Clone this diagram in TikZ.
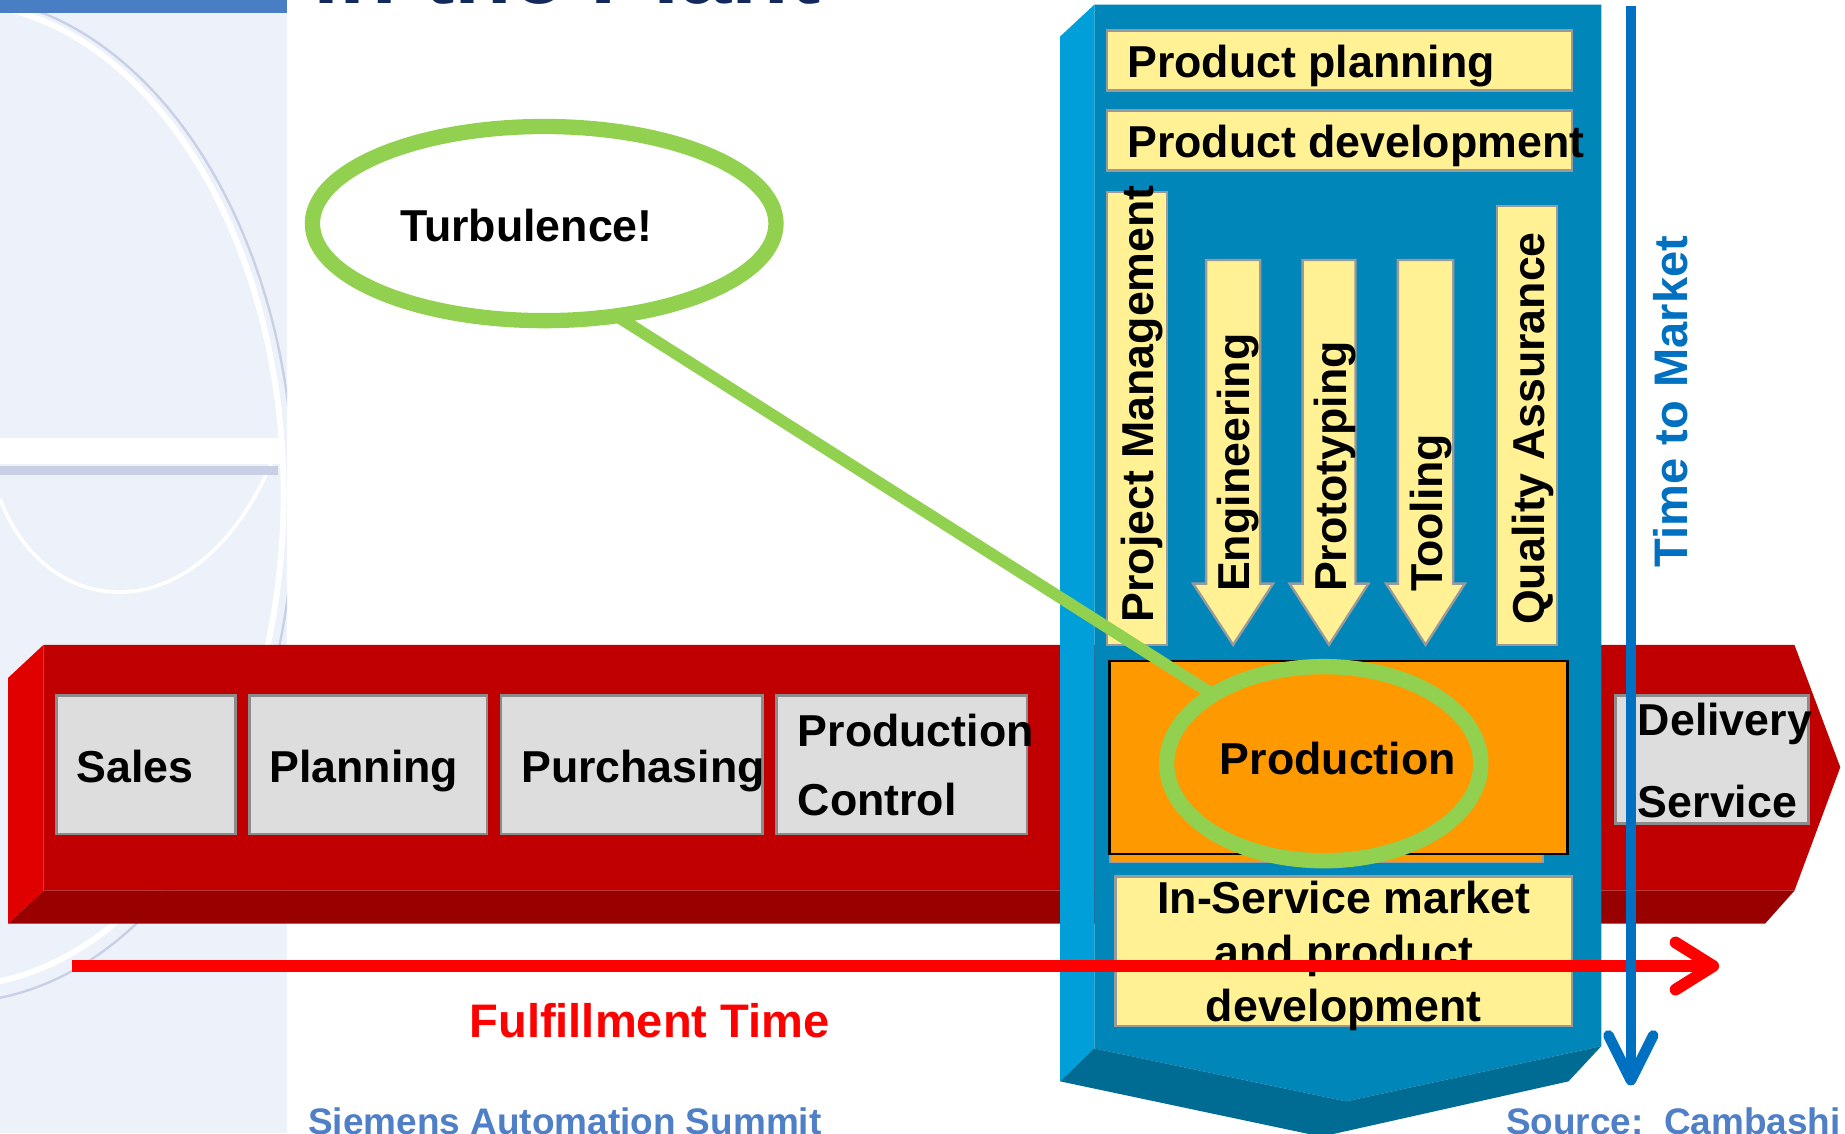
\documentclass[tikz,border=0pt]{standalone}
\usepackage{fontspec}
\setmainfont{Liberation Sans}
\usetikzlibrary{shapes.geometric,fit}
\definecolor{panelbg}{HTML}{EDF1F9}
\definecolor{panelline}{HTML}{C9D0E6}
\definecolor{topbar}{HTML}{4A7EC4}
\definecolor{navy}{HTML}{13295B}
\definecolor{redfront}{HTML}{C00000}
\definecolor{redleft}{HTML}{E00000}
\definecolor{reddark}{HTML}{990000}
\definecolor{grayfill}{HTML}{DDDDDD}
\definecolor{grayline}{HTML}{8C8C8C}
\definecolor{bluefront}{HTML}{0086B8}
\definecolor{blueleft}{HTML}{009FD9}
\definecolor{bluedark}{HTML}{006C94}
\definecolor{yellowfill}{HTML}{FFF194}
\definecolor{yline}{HTML}{9A9A9A}
\definecolor{prodorange}{HTML}{FF9900}
\definecolor{lgreen}{HTML}{92D050}
\definecolor{tmblue}{HTML}{0070C0}
\definecolor{footblue}{HTML}{4F7FC6}
\definecolor{purered}{HTML}{FF0000}
\newcommand\lblfont{\fontsize{19}{23}\selectfont\bfseries}
\newcommand\bigfont{\fontsize{20}{24}\selectfont\bfseries}
\newcommand\footfont{\fontsize{15.7}{19}\selectfont\bfseries}
\newcommand\titlefont{\fontsize{40}{48}\selectfont\bfseries}
\tikzset{
  lbl/.style={font=\lblfont, inner sep=0pt, outer sep=0pt, anchor=base west},
  clbl/.style={lbl, anchor=base},
  vlbl/.style={lbl, rotate=90},
  gbox/.style={draw=grayline, fill=grayfill, line width=1pt, inner sep=0pt, outer sep=0pt},
  ybox/.style={draw=yline, fill=yellowfill, line width=1pt, inner sep=0pt, outer sep=0pt},
  yarrow/.style={draw=yline, fill=yellowfill, line width=1pt},
  obox/.style={draw=black, fill=prodorange, line width=1pt, inner sep=0pt, outer sep=0pt},
  greenring/.style={ellipse, draw=lgreen, line width=6.5pt, inner sep=0pt, outer sep=0pt},
  greenline/.style={draw=lgreen, line width=5pt},
  redline/.style={draw=purered, line width=5pt},
  blueline/.style={draw=tmblue, line width=4.5pt},
}
\begin{document}
\begin{tikzpicture}[x=0.5pt,y=-0.5pt]
\useasboundingbox (0,0) rectangle (1568,963);
\clip (0,0) rectangle (1568,963);
\fill[white] (0,0) rectangle (1568,963);
% left decorative panel
\begin{scope}
  \clip (0,0) rectangle (244,963);
  \fill[panelbg] (0,0) rectangle (244,963);
  \draw[panelline, line width=1pt] (-40,424) ellipse [x radius=290, y radius=428];
  \draw[white, line width=2.5pt] (-40,420) ellipse [x radius=281, y radius=418];
  \draw[white, line width=1.5pt] (0,424) .. controls (40,530) and (170,540) .. (232,390);
  \fill[white] (0,372) rectangle (240,394);
  \fill[panelline] (0,396) rectangle (236,404);
\end{scope}
\fill[topbar] (0,0) rectangle (244,11);
\node[anchor=base west, inner sep=0pt, font=\titlefont, text=navy] (title) at (266,3) {in the Plant};
% red fulfillment bar
\fill[redfront] (37,548) -- (1525,548) -- (1564,652) -- (1525,757) -- (37,757) -- cycle;
\fill[redleft] (7,576) -- (37,548) -- (37,757) -- (7,785) -- cycle;
\fill[reddark] (7,785) -- (37,757) -- (1525,757) -- (1500,785) -- cycle;
% gray boxes
\node[gbox, fit={(48,591) (200,709)}] (sales) {};
\node[gbox, fit={(212,591) (414,709)}] (planning) {};
\node[gbox, fit={(426,591) (648,709)}] (purchasing) {};
\node[gbox, fit={(660,591) (873,709)}] (prodctl) {};
\node[gbox, fit={(1373,591) (1537,700)}] (delivery) {};
\node[lbl] (salestxt) at (65,665) {Sales};
\node[lbl] (plantxt) at (229,665) {Planning};
\node[lbl] (purchtxt) at (443,665) {Purchasing};
\node[lbl] (pctxt1) at (678,634) {Production};
\node[lbl] (pctxt2) at (678,693) {Control};
\node[lbl] (deltxt1) at (1392,625) {Delivery};
\node[lbl] (deltxt2) at (1392,695) {Service};
% turbulence bubble
\node[greenring, fill=white, minimum width=197pt, minimum height=82.5pt] (turb) at (462.5,190) {};
\node[lbl] (turbtxt) at (340,205) {Turbulence!};
% blue time-to-market block
\fill[bluefront] (930,4) -- (1361,4) -- (1361,889) -- (1144,936) -- (930,891) -- cycle;
\fill[blueleft] (901,31) -- (930,4) -- (930,891) -- (901,919) -- cycle;
\fill[bluedark] (901,919) -- (930,891) -- (1144,936) -- (1361,889) -- (1333,919) -- (1123,966) -- cycle;
% yellow boxes
\node[ybox, fit={(941,26) (1336,77)}] (pplan) {};
\node[ybox, fit={(941,94) (1336,145)}] (pdev) {};
\node[ybox, fit={(941,163) (992,548)}] (projm) {};
\node[ybox, fit={(1272,175) (1323,548)}] (qa) {};
\path[yarrow] (1025,221) -- (1071,221) -- (1071,496) -- (1082,496) -- (1048,548) -- (1014,496) -- (1025,496) -- cycle;
\path[yarrow] (1107,221) -- (1152,221) -- (1152,496) -- (1163,496) -- (1129.5,548) -- (1096,496) -- (1107,496) -- cycle;
\path[yarrow] (1188,221) -- (1235,221) -- (1235,496) -- (1245,496) -- (1211.5,548) -- (1178,496) -- (1188,496) -- cycle;
\node[lbl] (pplantxt) at (958,66) {Product planning};
\node[lbl] (pdevtxt) at (958,134) {Product development};
\node[vlbl] (projtxt) at (980,529) {Project Management};
\node[vlbl] (engtxt) at (1062,503) {Engineering};
\node[vlbl] (prototxt) at (1144,503) {Prototyping};
\node[vlbl] (tooltxt) at (1226,503) {Tooling};
\node[vlbl] (qatxt) at (1313,531) {Quality Assurance};
% production
\filldraw[fill=prodorange, draw=yline, line width=0.8pt] (943,726) rectangle (1311,733);
\node[obox, fit={(943,562) (1332,726)}] (prod) {};
\node[clbl] (prodtxt) at (1137,658) {Production};
% in-service box
\node[ybox, fit={(948,745) (1336,872)}] (inserv) {};
\node[clbl] (inserv1) at (1142,776) {In-Service market};
\node[clbl] (inserv2) at (1142,822) {and product};
\node[clbl] (inserv3) at (1142,868) {development};
% green ring and connector
\node[greenring, minimum width=133.5pt, minimum height=82.5pt] (ring) at (1125,649) {};
\draw[greenline] (turb.-52) -- (ring.148);
% fulfillment arrow
\coordinate (fs) at (61,821);
\coordinate (ft) at (1456,821);
\coordinate (fa) at (1424,801);
\coordinate (fb) at (1424,841);
\draw[redline] (fs) -- (ft);
\draw[redline, line cap=round, line join=round] (fa) -- (ft) -- (fb);
\node[lbl, font=\bigfont, text=purered] (fulltxt) at (399,882) {Fulfillment Time};
% time to market arrow
\coordinate (ts) at (1386,5);
\coordinate (tt) at (1386,918);
\coordinate (ta) at (1367,880);
\coordinate (tb) at (1405,880);
\draw[blueline] (ts) -- (tt);
\draw[blueline, line cap=round, line join=round] (ta) -- (tt) -- (tb);
\node[vlbl, font=\bigfont, text=tmblue] (tmtxt) at (1434,482) {Time to Market};
% footer
\node[lbl, font=\footfont, text=footblue] (foot1) at (262,964) {Siemens Automation Summit};
\node[lbl, font=\footfont, text=footblue] (foot2) at (1280,964) {Source:\ \ Cambashi};
\end{tikzpicture}
\end{document}
